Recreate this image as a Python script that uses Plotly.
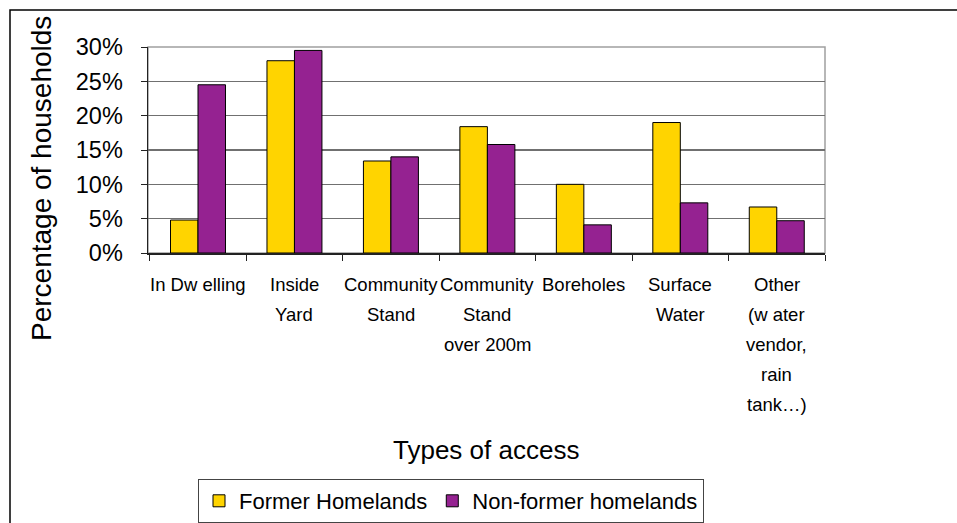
import plotly.graph_objects as go

categories = ["In Dwelling", "Inside Yard", "Community Stand", "Community Stand over 200m",
              "Boreholes", "Surface Water", "Other"]
tick_labels = ["In Dw elling", "Inside\nYard", "Community\nStand", "Community\nStand\nover 200m",
               "Boreholes", "Surface\nWater", "Other\n(w ater\nvendor,\nrain\ntank…)"]
former_homelands = [0.048, 0.280, 0.134, 0.184, 0.100, 0.190, 0.067]
non_former_homelands = [0.245, 0.295, 0.140, 0.158, 0.041, 0.073, 0.047]
y_ticks = [0, 0.05, 0.10, 0.15, 0.20, 0.25, 0.30]
y_tick_text = ["0%", "5%", "10%", "15%", "20%", "25%", "30%"]

W, H = 957, 523
L, R, T, B = 148, 132, 47, 270
PW, PH = W - L - R, H - T - B

def px_x(p):
    return (p - L) / PW

def px_y(p):
    return (H - B - p) / PH

FONT = "Liberation Sans, Arial, sans-serif"

fig = go.Figure()
fig.add_trace(go.Bar(x=categories, y=former_homelands, name="Former Homelands",
                     marker=dict(color="#FFD400", line=dict(color="black", width=1))))
fig.add_trace(go.Bar(x=categories, y=non_former_homelands, name="Non-former homelands",
                     marker=dict(color="#952291", line=dict(color="black", width=1))))

annotations = []
for cat, lab in zip(categories, tick_labels):
    for i, line in enumerate(lab.split("\n")):
        annotations.append(dict(x=cat, xref="x", y=px_y(284 + 30 * i), yref="paper",
                                text=line, showarrow=False, xanchor="center", yanchor="middle",
                                font=dict(family=FONT, size=18.5, color="black")))
annotations.append(dict(x=px_x(41), xref="paper", y=px_y(179), yref="paper",
                        text="Percentage of households", textangle=-90, showarrow=False,
                        xanchor="center", yanchor="middle",
                        font=dict(family=FONT, size=28, color="black")))
annotations.append(dict(x=px_x(486), xref="paper", y=px_y(450), yref="paper",
                        text="Types of access", showarrow=False,
                        xanchor="center", yanchor="middle",
                        font=dict(family=FONT, size=26, color="black")))

shapes = [
    dict(type="rect", xref="paper", yref="paper", x0=px_x(10), x1=px_x(1000),
         y0=px_y(600), y1=px_y(10), line=dict(color="black", width=1.5), layer="below"),
    dict(type="rect", xref="paper", yref="paper", x0=0, x1=1, y0=0, y1=1,
         line=dict(color="#a0a0a0", width=1.5), layer="below"),
]

fig.update_layout(
    width=W, height=H,
    margin=dict(l=L, r=R, t=T, b=B, autoexpand=False),
    paper_bgcolor="white", plot_bgcolor="white",
    barmode="group", bargap=0.43, bargroupgap=0,
    font=dict(family=FONT, color="black"),
    annotations=annotations, shapes=shapes,
    legend=dict(orientation="h", x=px_x(198), y=px_y(479), xanchor="left", yanchor="top",
                bgcolor="white", bordercolor="#444", borderwidth=1,
                font=dict(family=FONT, size=22, color="black"),
                tracegroupgap=0),
    showlegend=True,
)
fig.update_xaxes(showticklabels=False, showline=True, linecolor="#222", linewidth=1.5,
                 ticks="outside", ticklen=6, tickcolor="#222", tickson="boundaries",
                 showgrid=False, fixedrange=True)
fig.update_yaxes(range=[0, 0.30], tickvals=y_ticks, ticktext=y_tick_text,
                 showline=True, linecolor="#222", linewidth=1.5,
                 ticks="outside", ticklen=6, tickcolor="#222",
                 showgrid=True, gridcolor="#707070", gridwidth=1.5,
                 ticklabelstandoff=13,
                 tickfont=dict(family=FONT, size=23.5, color="black"), zeroline=False,
                 fixedrange=True)

fig.write_html("out.html", config={"displayModeBar": False, "staticPlot": True},
               post_script="document.body.style.margin='0px';document.body.style.overflow='hidden';")
